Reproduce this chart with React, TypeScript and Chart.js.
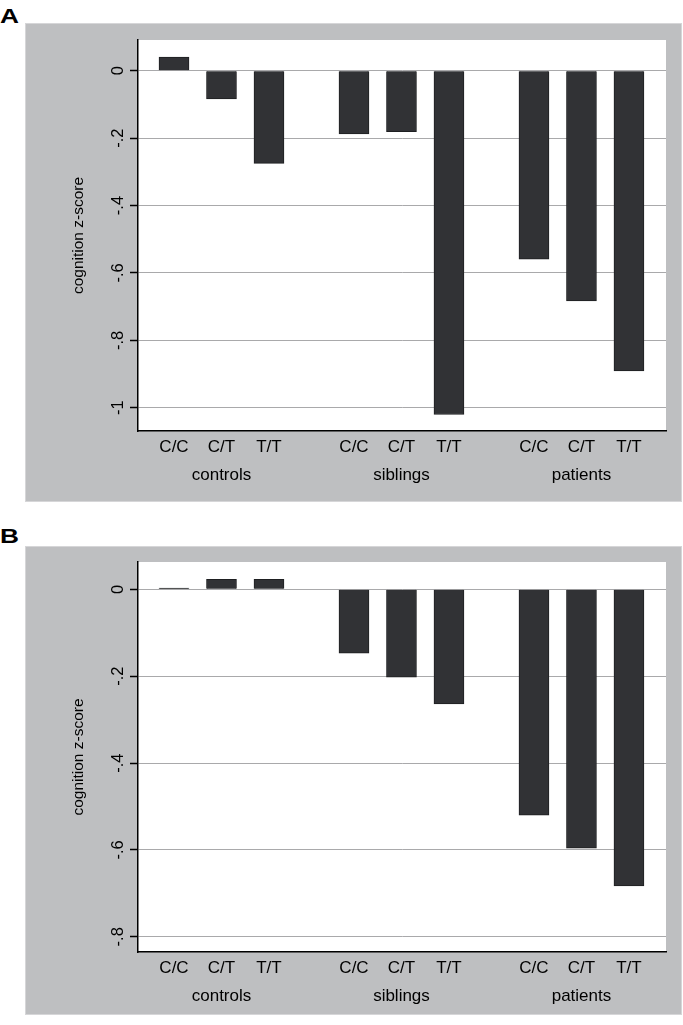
import React, { useEffect, useRef } from "react";
import { Chart, registerables } from "chart.js";

Chart.register(...registerables);

// ---- data ----
const groups = ["controls", "siblings", "patients"];
const genotypes = ["C/C", "C/T", "T/T"];
const yTitle = "cognition z-score";

// panel A (order: controls C/C, C/T, T/T, siblings ..., patients ...)
const valuesA = [0.04, -0.084, -0.275, -0.188, -0.181, -1.02, -0.559, -0.683, -0.891];
const yTicksA = [0, -0.2, -0.4, -0.6, -0.8, -1];
const yTickLabelsA = ["0", "-.2", "-.4", "-.6", "-.8", "-1"];

// panel B
const valuesB = [0.003, 0.023, 0.023, -0.147, -0.202, -0.264, -0.52, -0.596, -0.683];
const yTicksB = [0, -0.2, -0.4, -0.6, -0.8];
const yTickLabelsB = ["0", "-.2", "-.4", "-.6", "-.8"];

// ---- layout ----
const FONT = "'Liberation Sans', Arial, Helvetica, sans-serif";
const GROUP_STEP = 3.79;
const pos = (i: number) => Math.floor(i / 3) * GROUP_STEP + (i % 3);
const GRAY = "#bebfc1";
const BAR = "#313235";

const bgPlugin = {
  id: "panelBg",
  beforeDraw(chart: any) {
    const { ctx, chartArea, width, height } = chart;
    ctx.save();
    ctx.fillStyle = GRAY;
    ctx.fillRect(0, 0, width, height);
    ctx.strokeStyle = "#d6d6d8";
    ctx.lineWidth = 1;
    ctx.strokeRect(0.5, 0.5, width - 1, height - 1);
    ctx.fillStyle = "#ffffff";
    ctx.fillRect(chartArea.left, chartArea.top, chartArea.right - chartArea.left, chartArea.bottom - chartArea.top);
    ctx.restore();
  },
};

type PanelProps = {
  values: number[];
  yTicks: number[];
  yLabels: string[];
  yMin: number;
  yMax: number;
  width: number;
  height: number;
  padTop: number;
  bottomH: number;
};

function Panel({ values, yTicks, yLabels, yMin, yMax, width, height, padTop, bottomH }: PanelProps) {
  const ref = useRef<HTMLCanvasElement | null>(null);
  useEffect(() => {
    if (!ref.current) return;
    const chart = new Chart(ref.current, {
      type: "bar",
      data: {
        datasets: [
          {
            data: values.map((v, i) => ({ x: pos(i), y: v })),
            backgroundColor: BAR,
            borderColor: "#1e1f21",
            borderWidth: 1,
            barThickness: 30,
          } as any,
        ],
      },
      options: {
        animation: false,
        responsive: false,
        devicePixelRatio: 1,
        layout: { padding: { left: 0, right: 16, top: padTop, bottom: 0 } },
        plugins: { legend: { display: false }, tooltip: { enabled: false } },
        scales: {
          x: {
            type: "linear",
            offset: false,
            min: -0.758,
            max: 2 * GROUP_STEP + 2 + 0.78,
            afterBuildTicks: (s: any) => {
              s.ticks = values.map((_, i) => ({ value: pos(i) }));
            },
            afterFit: (s: any) => {
              s.height = bottomH;
            },
            ticks: {
              autoSkip: false,
              minRotation: 0,
              maxRotation: 0,
              padding: 2,
              color: "#000",
              font: { family: FONT, size: 17, lineHeight: 28 / 17 },
              callback: (_v: any, idx: number) =>
                idx % 3 === 1 ? [genotypes[1], groups[Math.floor(idx / 3)]] : [genotypes[idx % 3], ""],
            },
            grid: { display: false, drawTicks: false },
            border: { display: true, color: "#000", width: 1.5 },
          },
          y: {
            type: "linear",
            min: yMin,
            max: yMax,
            afterBuildTicks: (s: any) => {
              s.ticks = yTicks.map((v) => ({ value: v }));
            },
            afterFit: (s: any) => {
              s.width = 113;
            },
            ticks: {
              autoSkip: false,
              minRotation: 90,
              maxRotation: 90,
              crossAlign: "center",
              padding: 2,
              color: "#000",
              font: { family: FONT, size: 16.5 },
              callback: (_v: any, idx: number) => yLabels[idx],
            },
            grid: {
              color: "#a9a9ab",
              lineWidth: 1,
              drawTicks: true,
              tickLength: 8,
              tickColor: "#000",
              tickWidth: 1.5,
            },
            border: { display: true, color: "#000", width: 1.5 },
            title: {
              display: true,
              text: yTitle,
              color: "#000",
              font: { family: FONT, size: 15.5 },
              padding: { top: 44, bottom: 0 },
            },
          },
        },
      } as any,
      plugins: [bgPlugin],
    });
    return () => chart.destroy();
  }, []);
  return <canvas ref={ref} width={width} height={height} style={{ display: "block", width, height }} />;
}

const letterStyle: React.CSSProperties = {
  position: "absolute",
  left: 0,
  fontFamily: FONT,
  fontWeight: "bold",
  fontSize: 21,
  lineHeight: "21px",
  transform: "scaleX(1.25)",
  transformOrigin: "left top",
  color: "#000",
};

export default function App() {
  return (
    <div style={{ position: "absolute", left: 0, top: 0, width: 683, height: 1025, background: "#fff" }}>
      <div style={{ ...letterStyle, top: 5 }}>A</div>
      <div style={{ position: "absolute", left: 25, top: 23 }}>
        <Panel
          values={valuesA}
          yTicks={yTicksA}
          yLabels={yTickLabelsA}
          yMin={-1.069}
          yMax={0.091}
          width={657}
          height={479}
          padTop={17}
          bottomH={71}
        />
      </div>
      <div style={{ ...letterStyle, top: 525 }}>B</div>
      <div style={{ position: "absolute", left: 25, top: 546 }}>
        <Panel
          values={valuesB}
          yTicks={yTicksB}
          yLabels={yTickLabelsB}
          yMin={-0.835}
          yMax={0.063}
          width={657}
          height={469}
          padTop={16}
          bottomH={63}
        />
      </div>
    </div>
  );
}
